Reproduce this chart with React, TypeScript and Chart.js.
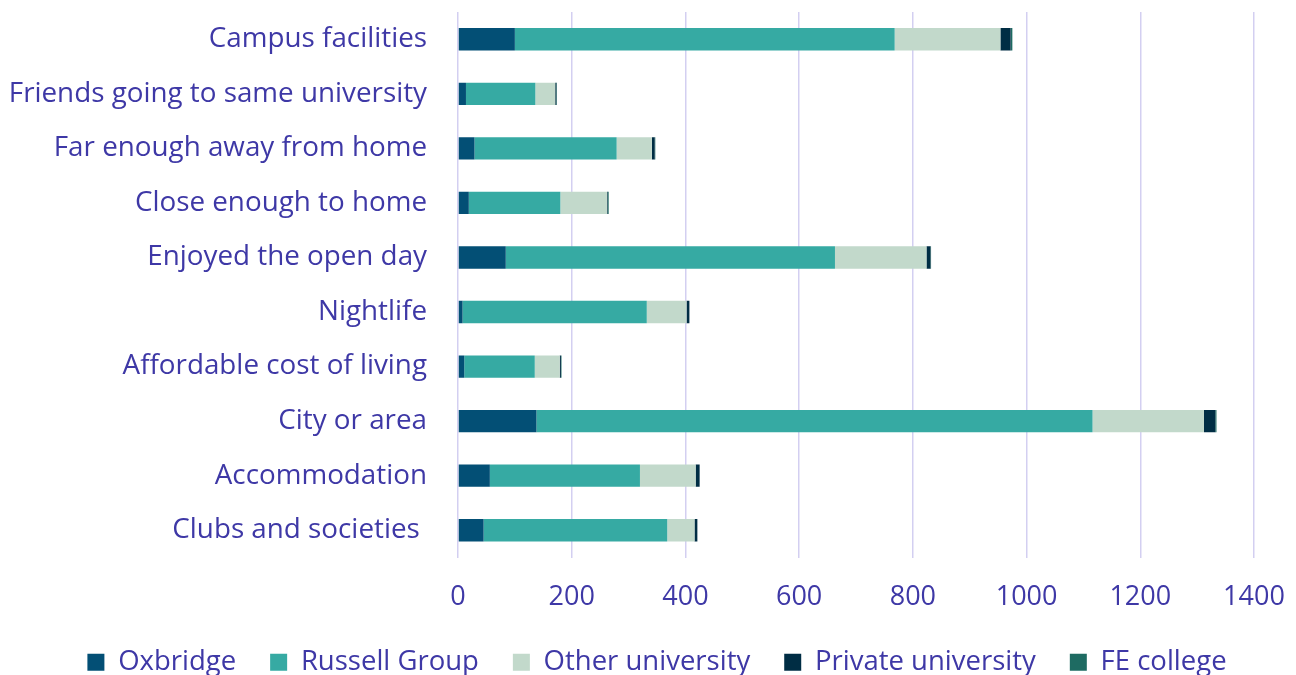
import React, { useEffect, useRef } from "react";
import { Chart, registerables } from "chart.js";

Chart.register(...registerables);

const categories = [
  "Campus facilities",
  "Friends going to same university",
  "Far enough away from home",
  "Close enough to home",
  "Enjoyed the open day",
  "Nightlife",
  "Affordable cost of living",
  "City or area",
  "Accommodation",
  "Clubs and societies ",
];

const oxbridge = [100, 14, 29, 19, 84, 8, 11, 138, 56, 45];
const russellGroup = [668, 122, 250, 161, 579, 324, 124, 978, 264, 323];
const otherUniversity = [186, 35, 62, 82, 161, 70, 44, 196, 98, 48];
const privateUniversity = [18, 2, 5, 1, 7, 5, 2, 20, 7, 5];
const feCollege = [3, 1, 1, 2, 1, 0, 1, 2, 0, 0];

const xTicks = [0, 200, 400, 600, 800, 1000, 1200, 1400];

const TEXT = "#3e38a6";
const FONT = "'Open Sans'";

const shiftLegend = {
  id: "shiftLegend",
  afterLayout(chart: any) {
    const lg = chart.legend;
    if (lg) {
      lg.left += 30;
      lg.right += 30;
    }
  },
};

export default function App() {
  const ref = useRef<HTMLCanvasElement | null>(null);

  useEffect(() => {
    document.body.style.margin = "0";
    const ctx = ref.current!;
    const chart = new Chart(ctx, {
      type: "bar",
      data: {
        labels: categories,
        datasets: [
          { label: "Oxbridge", data: oxbridge, backgroundColor: "#034f75" },
          { label: "Russell Group", data: russellGroup, backgroundColor: "#36aaa3" },
          { label: "Other university", data: otherUniversity, backgroundColor: "#c2d9cb" },
          { label: "Private university", data: privateUniversity, backgroundColor: "#002d44" },
          { label: "FE college", data: feCollege, backgroundColor: "#1e6b62" },
        ],
      },
      plugins: [shiftLegend],
      options: {
        indexAxis: "y",
        animation: false,
        responsive: false,
        maintainAspectRatio: false,
        datasets: { bar: { categoryPercentage: 1, barPercentage: 0.41 } },
        layout: { padding: { top: 12, right: 42, left: 0, bottom: 0 } },
        plugins: {
          tooltip: { enabled: false },
          legend: {
            position: "bottom",
            labels: {
              color: TEXT,
              font: { family: FONT, size: 27.5 },
              boxWidth: 17,
              boxHeight: 17,
              padding: 34,
            },
          },
        },
        scales: {
          x: {
            stacked: true,
            min: 0,
            max: 1400,
            afterBuildTicks: (s: any) => {
              s.ticks = xTicks.map((v) => ({ value: v }));
            },
            afterFit: (s: any) => {
              s.height = 57;
              s.paddingLeft = 0;
              s.paddingRight = 0;
            },
            grid: { color: "#d3cff1", lineWidth: 1.5, drawTicks: false },
            border: { display: false },
            ticks: {
              color: TEXT,
              font: { family: FONT, size: 27 },
              padding: 24,
              callback: (v: any) => String(v),
            },
          },
          y: {
            stacked: true,
            afterFit: (s: any) => {
              s.width = 458;
              s.paddingTop = 0;
              s.paddingBottom = 0;
            },
            grid: { display: false },
            border: { display: false },
            ticks: { color: TEXT, font: { family: FONT, size: 27.8 }, padding: 23 },
          },
        },
      },
    });
    return () => chart.destroy();
  }, []);

  return (
    <div style={{ position: "absolute", left: 0, top: 0, width: 1296, height: 686 }}>
      <canvas ref={ref} width={1296} height={686} />
    </div>
  );
}
